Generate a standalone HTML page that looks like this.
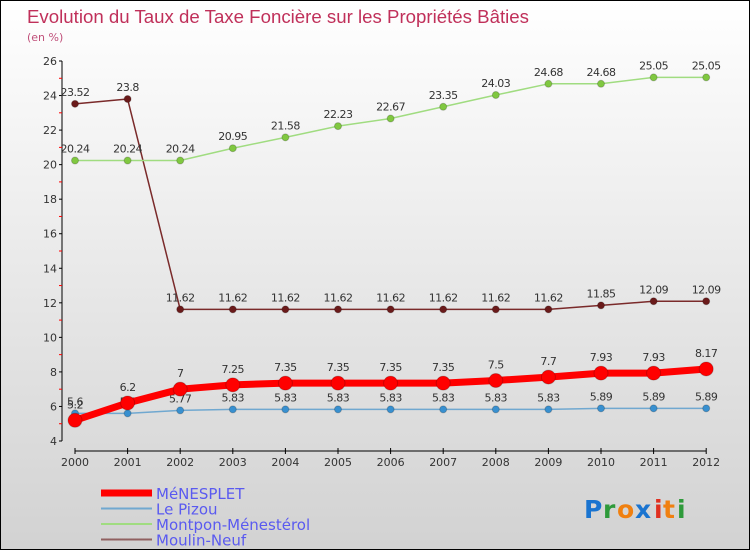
<!DOCTYPE html>
<html><head><meta charset="utf-8"><style>
body{margin:0;}
#wrap{width:748px;height:548px;border:1px solid #000;background:linear-gradient(#ffffff,#d2d2d2);position:relative;overflow:hidden;font-family:"DejaVu Sans","Liberation Sans",sans-serif;}
</style></head><body>
<div id="wrap">
<svg id="c" width="748" height="548" xmlns="http://www.w3.org/2000/svg">
<text x="26" y="22" font-size="18" fill="#c0305a" font-family="Liberation Sans,sans-serif" textLength="502" lengthAdjust="spacingAndGlyphs">Evolution du Taux de Taxe Foncière sur les Propriétés Bâties</text>
<text x="26" y="40" font-size="11" fill="#c0507a">(en %)</text>
<g id="axes"></g><g id="series"></g><g id="legend"></g>
<g font-family="DejaVu Sans,sans-serif" font-size="25" font-weight="bold">
<text x="583" y="517" fill="#1a74d0">P</text><text x="602" y="517" fill="#2e9a3a">r</text><text x="616" y="517" fill="#f08010">o</text><text x="634" y="517" fill="#1a74d0">x</text><text x="653" y="517" fill="#e03020">i</text><text x="662" y="517" fill="#f08010">t</text><text x="676" y="517" fill="#2e9a3a">i</text>
</g>
</svg></div>
<script>
const years=["2000","2001","2002","2003","2004","2005","2006","2007","2008","2009","2010","2011","2012"];
const yTicks=[4,6,8,10,12,14,16,18,20,22,24,26];
const menesplet=[5.2,6.2,7,7.25,7.35,7.35,7.35,7.35,7.5,7.7,7.93,7.93,8.17];
const lePizou=[5.6,5.6,5.77,5.83,5.83,5.83,5.83,5.83,5.83,5.83,5.89,5.89,5.89];
const montpon=[20.24,20.24,20.24,20.95,21.58,22.23,22.67,23.35,24.03,24.68,24.68,25.05,25.05];
const moulin=[23.52,23.8,11.62,11.62,11.62,11.62,11.62,11.62,11.62,11.62,11.85,12.09,12.09];
const names=["MéNESPLET","Le Pizou","Montpon-Ménestérol","Moulin-Neuf"];
const NS="http://www.w3.org/2000/svg";
const x=i=>74+i*52.6;
const y=v=>440-(v-4)*(380/22);
function mk(tag,attrs,parent){const e=document.createElementNS(NS,tag);for(const k in attrs)e.setAttribute(k,attrs[k]);parent.appendChild(e);return e;}
const ax=document.getElementById('axes');
let l=mk('line',{x1:61,y1:y(26),x2:61,y2:y(4),stroke:'#000'},ax);


l=mk('line',{x1:x(0),y1:450,x2:x(12),y2:450,stroke:'#000'},ax);


yTicks.forEach(v=>{
  mk('line',{x1:58,y1:y(v),x2:61,y2:y(v),stroke:'#000'},ax);
  if(v<26) mk('line',{x1:58,y1:y(v+1),x2:61,y2:y(v+1),stroke:'#f00'},ax);
  const t=mk('text',{x:56,y:y(v)+4,'font-size':11,'text-anchor':'end',fill:'#333'},ax);t.textContent=v;
  
  
});
years.forEach((yr,i)=>{
  mk('line',{x1:x(i),y1:447,x2:x(i),y2:453,stroke:'#000'},ax);
  const t=mk('text',{x:x(i),y:465,'font-size':11,'text-anchor':'middle',fill:'#333'},ax);t.textContent=yr;
  
  
});
const sg=document.getElementById('series');
function series(vals,color,w,r,fill,name,dy){
  const g=mk('g',{},sg);
  
  
  mk('polyline',{points:vals.map((v,i)=>x(i)+','+y(v)).join(' '),fill:'none',stroke:color,'stroke-width':w,'stroke-linejoin':'round'},g);
  vals.forEach((v,i)=>{
    const c=mk('circle',{cx:x(i),cy:y(v),r:r,fill:fill,stroke:'#0003'},g);
    
    
    const t=mk('text',{x:x(i),y:y(v)+dy,'font-size':11,'text-anchor':'middle',fill:'#333','letter-spacing':'-0.5'},g);t.textContent=v;
  });
}
series(moulin,'#7a2a2a',1.5,3.5,'#6a1a1a','series-moulin-neuf',-8);
series(montpon,'#a0dc80',1.5,3.5,'#80c840','series-montpon',-8);
series(lePizou,'#70a8d0',1.5,3.5,'#3890d0','series-le-pizou',-8);
series(menesplet,'#ff0000',7,7,'#ff0000','series-menesplet',-12);
const lg=document.getElementById('legend');
const lc=['#ff0000','#70a8d0','#a0dc80','#906060'],lw=[7,2,2,2];
names.forEach((n,i)=>{
  const yy=492+i*15.5;
  const g=mk('g',{},lg);
  
  
  mk('line',{x1:100,y1:yy,x2:151,y2:yy,stroke:lc[i],'stroke-width':lw[i]},g);
  const t=mk('text',{x:155,y:yy+6,'font-size':15,fill:'#5a5af0'},g);t.textContent=n;
});
</script>
</body></html>
